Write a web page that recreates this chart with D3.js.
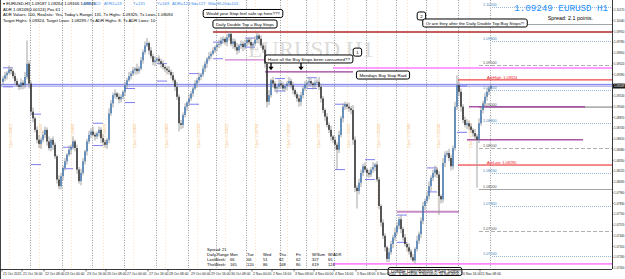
<!DOCTYPE html>
<html>
<head>
<meta charset="utf-8">
<script src="https://cdn.jsdelivr.net/npm/d3@7"></script>
<style>
  body { margin: 0; background: #fff; }
  svg { display: block; font-family: "Liberation Sans", Arial, sans-serif; }
</style>
</head>
<body>
<div id="chart"></div>
<script>
// H1 candles, values in pips above 1.07000 (open = previous close)
var firstOpen = 230;
var closes = [
  234,238,241,245,243,237,231,226,224,229, 226,236,252,228,194,186,172,160,155,160,
  166,172,158,150,160,154,140,112,104,116, 126,134,142,148,151,158,150,124,110,120,
  134,146,158,166,170,166,164,168,172,162, 157,154,160,192,204,214,216,212,209,212,
  218,226,232,237,240,244,246,243,246,256, 266,274,277,268,261,254,256,258,255,252,
  248,246,244,242,238,232,224,212,180,178, 190,200,205,210,216,222,228,232,236,239,
  246,252,258,261,264,268,272,275,276,280, 282,278,284,288,276,279,272,268,274,276,
  272,277,281,278,274,276,281,286,282,274, 269,252,206,214,232,228,222,224,228,226,
  222,225,228,231,226,220,215,210,206,214, 222,227,229,231,228,226,229,230,224,210,
  196,188,178,172,164,160,154,148,166,186, 200,203,200,198,196,160,102,98,108,120,
  128,124,120,118,124,127,130,112,80,60, 44,30,16,24,34,42,48,56,64,52,
  42,34,30,25,18,14,28,38,46,62, 80,86,92,104,114,120,124,118,92,88,
  132,142,144,138,128,150,200,226,218,200, 184,178,180,176,172,168,164,160,180,196,
  204,212,218,222,225
];
var upperWick = [
  3,4,2,5,3,2,4,3,2,5, 3,6,28,4,3,5,2,4,6,3, 5,4,3,6,2,4,3,2,5,4, 3,4,2,5,3,6,2,4,3,5,
  4,2,3,5,4,6,3,2,4,3, 5,3,2,6,4,3,5,2,4,3, 2,4,3,5,3,4,2,6,3,4, 3,5,6,2,4,3,5,2,4,3,
  4,2,3,5,3,4,2,6,3,4, 3,4,2,5,3,2,4,3,5,2, 4,3,2,5,3,4,2,3,5,4, 3,2,4,3,2,4,3,5,2,4,
  3,4,2,3,5,2,4,3,2,4, 3,5,4,6,2,4,3,2,5,3, 4,2,3,5,3,4,2,3,5,4, 3,4,2,5,3,2,4,3,6,4,
  3,2,4,3,5,2,4,3,5,3, 4,3,2,5,3,6,4,3,5,4, 3,5,2,4,3,6,2,4,3,2, 4,3,2,5,4,3,6,4,3,5,
  3,4,2,5,3,4,2,6,3,4, 5,3,4,6,3,4,5,3,4,2, 6,4,3,5,4,3,6,12,5,4, 3,4,5,3,4,2,5,3,6,4,
  3,5,4,3,2
];
var lowerWick = [
  4,3,5,2,4,3,5,2,4,3, 5,4,3,6,4,5,3,4,5,6, 3,4,5,3,4,6,3,5,4,4, 5,3,4,2,6,3,4,5,3,5,
  3,4,5,3,4,2,5,3,4,6, 4,3,5,4,3,5,4,3,5,4, 3,5,4,2,4,3,5,4,3,2, 4,3,2,5,3,4,5,3,4,5,
  3,4,5,3,4,3,5,4,10,5, 4,3,5,4,3,4,2,5,3,4, 3,4,5,3,4,2,3,5,4,3, 4,3,5,4,3,6,4,5,3,4,
  5,3,4,3,5,4,3,4,5,3, 4,5,7,4,3,5,4,6,3,4, 3,4,5,3,4,5,3,4,6,5, 4,3,5,4,3,5,4,3,4,5,
  4,5,3,4,5,4,6,24,4,3, 5,4,3,4,5,6,5,21,4,5, 4,3,5,4,3,4,5,3,4,5, 4,5,4,4,3,5,4,3,4,5,
  4,3,5,4,3,2,4,3,4,5, 4,5,3,4,6,4,5,4,23,5, 4,5,3,4,5,4,3,4,5,6, 4,3,5,4,3,4,5,58,4,3,
  4,3,5,4,3
];

// day separators and session open lines (bar index)
var separatorBars = [14, 30, 45, 61, 77, 93, 107, 122, 139, 152, 166, 182, 197, 212, 228, 244];
var sessionBars = [3, 18, 34, 50, 65, 81, 97, 111, 126, 142, 157, 172, 187, 202, 217, 233];

// early-hours range markers: bar, high pips, low pips
var rangeBars = [0, 14, 30, 45, 61, 77, 93, 105, 121, 136, 152, 166, 181, 197, 212, 227];
var rangeHigh = [247, 191, 151, 180, 222, 252, 240, 278, 283, 234, 235, 203, 136, 69, 126, 225];
var rangeLow  = [224, 130, 125, 153, 205, 231, 203, 258, 272, 219, 222, 124, 112, 36, 97, 169];

// stop zones drawn by hand on the chart
var zonePrice = [1.09903, 1.09565, 1.09420, 1.09468, 1.09000, 1.08600, 1.07730, 1.07100];
var zoneFrom  = [105, 111, 131, 165, 233, 232, 197, 165];
var zoneTo    = [305, 131, 175, 305, 291, 290, 228, 305];

// quarter levels on the right
var levelPrice = [1.1020, 1.1000, 1.0980, 1.0950, 1.0920, 1.0900, 1.0880, 1.0850, 1.0820, 1.0800, 1.0780, 1.0750, 1.0720];
var levelKind  = ["dot", "solid", "dot", "dash", "dot", "solid", "dot", "dash", "dot", "solid", "dot", "dash", "dot"];

var adrHigh = 1.09324, adrLow = 1.08295;
var bid = 1.09249, ask = 1.09270;

var priceTicks = [1.1017, 1.1004, 1.0991, 1.0978, 1.0965, 1.0952, 1.0939, 1.0926, 1.0913, 1.0900,
  1.0887, 1.0874, 1.0861, 1.0848, 1.0835, 1.0822, 1.0809, 1.0796, 1.0783, 1.0770,
  1.0757, 1.0744, 1.0731, 1.0718, 1.0705];
var timeTickBars = [0, 10, 21, 31, 42, 52, 62, 73, 83, 94, 104, 114, 125, 135, 146, 156, 166, 177, 187, 198, 208, 218, 229, 239];
var timeTickLabels = ["21 Oct 2015", "21 Oct 16:00", "22 Oct 08:00", "23 Oct 00:00", "23 Oct 16:00", "26 Oct 08:00",
  "27 Oct 00:00", "27 Oct 16:00", "28 Oct 08:00", "29 Oct 00:00", "29 Oct 16:00", "30 Oct 08:00",
  "2 Nov 00:00", "2 Nov 16:00", "3 Nov 08:00", "4 Nov 00:00", "4 Nov 16:00", "5 Nov 08:00",
  "6 Nov 00:00", "6 Nov 16:00", "9 Nov 08:00", "10 Nov 00:00", "10 Nov 16:00", "11 Nov 08:00"];

var weekDays = ["Mon", "Tue", "Wed", "Thu", "Fri", "W/Sum", "W/ADR"];
var lastWeek = [66, 66, 51, 82, 62, 327, 65];
var thisWeek = [165, 120, 86, 168, 80, 619, 124];

var width = 625, height = 279;
var plotRight = 612, plotBottom = 268;

function pip(v) { return 1.07 + v / 10000; }

var x = d3.scaleLinear().domain([0, closes.length - 1]).range([3, 491]);
var y = d3.scaleLinear().domain([1.0705, 1.1029]).range([plotBottom, 0]);
var fmt = d3.format(".5f");

var svg = d3.select("#chart").append("svg")
    .attr("width", width)
    .attr("height", height);

svg.append("rect").attr("width", width).attr("height", height).attr("fill", "#fff");

// watermark
svg.append("text")
    .attr("x", 248).attr("y", 57)
    .attr("font-family", "Liberation Serif, Times New Roman, serif")
    .attr("font-size", 23)
    .attr("fill", "#dcdcdc")
    .text("EURUSD H1");

// session lines + rotated open labels
var sess = svg.append("g");
sess.selectAll("line").data(sessionBars).enter().append("line")
    .attr("x1", d => x(d) + 0.5).attr("x2", d => x(d) + 0.5)
    .attr("y1", 0).attr("y2", plotBottom)
    .attr("stroke", "#fcdcae").attr("stroke-width", 0.8)
    .attr("stroke-dasharray", "1,2");
sess.selectAll("text").data(sessionBars).enter().append("text")
    .attr("transform", d => `translate(${x(d) + 2.5},136) rotate(-90)`)
    .attr("text-anchor", "middle")
    .attr("font-size", 3.8)
    .attr("fill", "#f6c58a")
    .text(d => "Open " + fmt(pip(d === 0 ? firstOpen : closes[d - 1])));

// day separators
svg.append("g").selectAll("line").data(separatorBars).enter().append("line")
    .attr("x1", d => x(d) - 0.5).attr("x2", d => x(d) - 0.5)
    .attr("y1", 0).attr("y2", plotBottom)
    .attr("stroke", "#7e7e7e").attr("stroke-width", 0.8)
    .attr("stroke-dasharray", "1,1.5");

// quarter levels
var lv = svg.append("g");
levelPrice.forEach(function(p, k) {
    var kind = levelKind[k];
    var x0 = kind === "dot" ? x(244.5) : x(238);
    lv.append("line")
        .attr("x1", x0).attr("x2", plotRight)
        .attr("y1", Math.round(y(p)) + 0.5).attr("y2", Math.round(y(p)) + 0.5)
        .attr("stroke", kind === "dot" ? "#7fa6d0" : "#9a9a9a")
        .attr("stroke-width", kind === "solid" ? 0.9 : 0.8)
        .attr("stroke-dasharray", kind === "dot" ? "1,1" : kind === "dash" ? "4,2" : null);
    lv.append("text")
        .attr("x", x(240)).attr("y", y(p) - 1)
        .attr("font-size", 3.8)
        .attr("fill", kind === "dot" ? "#4a7fb8" : "#555")
        .text(fmt(p));
});

// hand drawn zones
var zoneColor = ["#b02a2a", "#cf80cf", "#9b3d9b", "#ff80ff", "#a855a8", "#a855a8", "#c58cc5", "#ff88ff"];
var zoneWidth = [1.4, 1.2, 1.2, 1.6, 1.4, 1.4, 2.2, 1.8];
zonePrice.forEach(function(p, k) {
    svg.append("line")
        .attr("x1", x(zoneFrom[k])).attr("x2", Math.min(x(zoneTo[k]), plotRight))
        .attr("y1", y(p)).attr("y2", y(p))
        .attr("stroke", zoneColor[k]).attr("stroke-width", zoneWidth[k]);
});
// grey tail after the 1.09 purple line
svg.append("line")
    .attr("x1", x(291)).attr("x2", plotRight)
    .attr("y1", y(1.09)).attr("y2", y(1.09))
    .attr("stroke", "#c4c4c4").attr("stroke-width", 1.4);

// ADR lines
[[adrHigh, "AdrHigh: "], [adrLow, "AdrLow: "]].forEach(function(a) {
    svg.append("line")
        .attr("x1", x(227.5)).attr("x2", plotRight)
        .attr("y1", y(a[0])).attr("y2", y(a[0]))
        .attr("stroke", "#e8191c").attr("stroke-width", 1);
    svg.append("text")
        .attr("x", x(242)).attr("y", y(a[0]) - 1)
        .attr("font-size", 3.9).attr("fill", "#e8191c")
        .text(a[1] + fmt(a[0]));
});

// bid / ask lines
svg.append("line")
    .attr("x1", 0).attr("x2", plotRight)
    .attr("y1", y(ask)).attr("y2", y(ask))
    .attr("stroke", "#6b6bf5").attr("stroke-width", 0.9);
svg.append("line")
    .attr("x1", 0).attr("x2", plotRight)
    .attr("y1", y(bid)).attr("y2", y(bid))
    .attr("stroke", "#7c7cd8").attr("stroke-width", 0.9);

// range markers
var rg = svg.append("g");
rangeBars.forEach(function(b, k) {
    [rangeHigh[k], rangeLow[k]].forEach(function(v) {
        rg.append("line")
            .attr("x1", x(b)).attr("x2", x(b + 5))
            .attr("y1", y(pip(v))).attr("y2", y(pip(v)))
            .attr("stroke", "#6f6ff0").attr("stroke-width", 0.9);
    });
});

// candles
var bars = closes.map(function(c, i) {
    var o = i === 0 ? firstOpen : closes[i - 1];
    return {i: i, o: pip(o), c: pip(c), h: pip(Math.max(o, c) + upperWick[i]), l: pip(Math.min(o, c) - lowerWick[i])};
});
var candles = svg.append("g");
candles.selectAll("line").data(bars).enter().append("line")
    .attr("x1", d => x(d.i)).attr("x2", d => x(d.i))
    .attr("y1", d => y(d.h)).attr("y2", d => y(d.l))
    .attr("stroke", "#9a9a9a").attr("stroke-width", 0.9);
candles.selectAll("rect").data(bars).enter().append("rect")
    .attr("x", d => x(d.i) - 0.65)
    .attr("width", 1.3)
    .attr("y", d => y(Math.max(d.o, d.c)))
    .attr("height", d => Math.max(0.6, Math.abs(y(d.o) - y(d.c))))
    .attr("fill", d => d.c >= d.o ? "#2f6db3" : "#141414");

// arrows under the "consumed" note
[134, 149].forEach(function(b) {
    var ax = x(b), top = y(1.0962), tip = y(1.0944);
    svg.append("line").attr("x1", ax).attr("x2", ax).attr("y1", top).attr("y2", tip - 3)
        .attr("stroke", "#000").attr("stroke-width", 1.3);
    svg.append("path")
        .attr("d", `M${ax - 2.6},${tip - 3.5} L${ax + 2.6},${tip - 3.5} L${ax},${tip} Z`)
        .attr("fill", "#000");
});

// callout boxes
function note(cx, cy, txt, fs) {
    var g = svg.append("g");
    var t = g.append("text")
        .attr("x", cx).attr("y", cy + fs * 0.36)
        .attr("text-anchor", "middle")
        .attr("font-size", fs)
        .attr("fill", "#000")
        .text(txt);
    var w = t.node().getComputedTextLength() + 6;
    g.insert("rect", "text")
        .attr("x", cx - w / 2).attr("y", cy - 4)
        .attr("width", w).attr("height", 8)
        .attr("rx", 2)
        .attr("fill", "#fff").attr("stroke", "#000").attr("stroke-width", 1);
}
note(x(120), y(1.10127), "Would your Stop feel safe up here???", 4.4);
note(x(121), y(1.10000), "Daily Double Top = Buy Stops", 4.4);
note(x(153), y(1.09577), "Have all the Buy Stops been consumed??", 4.4);
note(x(177.2), y(1.09660), "1", 4.4);
note(x(190), y(1.09383), "Mondays Buy Stop Raid", 4.4);
note(x(209.2), y(1.10097), "2", 4.4);
note(x(236), y(1.10012), "Or are they after the Daily Double Top Buy Stops!!!", 4.4);
note(x(211), y(1.07008), "Double Daily Bottom = Sell Stops", 4.6);

// axes frame
svg.append("line").attr("x1", 0.5).attr("x2", 0.5).attr("y1", 0).attr("y2", height)
    .attr("stroke", "#444").attr("stroke-width", 1);
svg.append("line").attr("x1", plotRight + 0.5).attr("x2", plotRight + 0.5).attr("y1", 0).attr("y2", plotBottom + 1)
    .attr("stroke", "#222").attr("stroke-width", 0.9);
svg.append("line").attr("x1", 0).attr("x2", plotRight).attr("y1", plotBottom + 1.5).attr("y2", plotBottom + 1.5)
    .attr("stroke", "#222").attr("stroke-width", 0.9);

// price axis
var pa = svg.append("g");
pa.selectAll("line").data(priceTicks).enter().append("line")
    .attr("x1", plotRight).attr("x2", plotRight + 1.5)
    .attr("y1", d => y(d)).attr("y2", d => y(d))
    .attr("stroke", "#222").attr("stroke-width", 0.6);
pa.selectAll("text").data(priceTicks).enter().append("text")
    .attr("x", plotRight + 2).attr("y", d => y(d) + 1.1)
    .attr("font-size", 2.9).attr("fill", "#222")
    .text(d => fmt(d));
pa.append("rect").attr("x", plotRight + 1).attr("y", y(bid) - 2.4).attr("width", 12).attr("height", 4.8)
    .attr("fill", "#1a1a1a");
pa.append("text").attr("x", plotRight + 2).attr("y", y(bid) + 1.1)
    .attr("font-size", 2.9).attr("fill", "#fff").text(fmt(bid));

// time axis
var ta = svg.append("g");
ta.selectAll("line").data(timeTickBars).enter().append("line")
    .attr("x1", d => x(d) - 1).attr("x2", d => x(d) - 1)
    .attr("y1", plotBottom + 1.5).attr("y2", plotBottom + 3.5)
    .attr("stroke", "#222").attr("stroke-width", 0.6);
ta.selectAll("text").data(timeTickBars).enter().append("text")
    .attr("x", d => x(d)).attr("y", 275)
    .attr("font-size", 3.4).attr("fill", "#222")
    .text((d, k) => timeTickLabels[k]);

// header lines top-left
var hd = svg.append("g").attr("font-size", 4.2);
hd.append("text").attr("x", 3).attr("y", 5).attr("fill", "#000")
    .text("\u25BE EURUSD,H1  1.09187 1.09264 1.09166 1.09249");
var blueStats = [["ATR1=22", 83], ["ATR2=18", 104], ["T=131", 133], ["Y=169", 157], ["ADR=124", 172], ["Sd=127", 191], ["Wd=96", 208], ["20d=101", 222]];
blueStats.forEach(function(s) {
    hd.append("text").attr("x", s[1]).attr("y", 5).attr("fill", "#3b8ee6").text(s[0]);
});
hd.append("text").attr("x", 3).attr("y", 10.5).attr("fill", "#000")
    .text("ADR 1.09249(0.00124) Pos 61");
hd.append("text").attr("x", 3).attr("y", 16).attr("fill", "#000")
    .text("ADR Values: 100, Realistic: Yes, Today's Range: 131, Tx Highs: 1.09325, Tx Lows: 1.08094");
hd.append("text").attr("x", 3).attr("y", 21.5).attr("fill", "#000")
    .text("Target Highs: 1.09324, Target Lows: 1.08295 / Tx ADR Highs: 8, Tx ADR Lows: 10");

// top-right quote
svg.append("text").attr("x", 608).attr("y", 10.5).attr("text-anchor", "end")
    .attr("font-family", "Liberation Mono, DejaVu Sans Mono, monospace")
    .attr("font-size", 9.2).attr("fill", "#1e90ff")
    .text("1.09249 EURUSD H1");
svg.append("text").attr("x", 593).attr("y", 20).attr("text-anchor", "end")
    .attr("font-size", 5.4).attr("fill", "#000")
    .text("Spread: 2.1 points.");

// daily range table
var tb = svg.append("g").attr("font-size", 4).attr("fill", "#000");
var cols = [230, 247, 263, 279, 296, 312, 328];
tb.append("text").attr("x", 207).attr("y", 251).text("Spread: 21");
tb.append("text").attr("x", 207).attr("y", 256).text("Daily Range");
tb.append("text").attr("x", 207).attr("y", 261).text("LastWeek:");
tb.append("text").attr("x", 207).attr("y", 266).text("ThisWeek:");
weekDays.forEach(function(d, k) {
    tb.append("text").attr("x", cols[k]).attr("y", 256).text(d);
    tb.append("text").attr("x", cols[k]).attr("y", 261).text(lastWeek[k]);
    tb.append("text").attr("x", cols[k]).attr("y", 266).text(thisWeek[k]);
});
</script>
</body>
</html>
